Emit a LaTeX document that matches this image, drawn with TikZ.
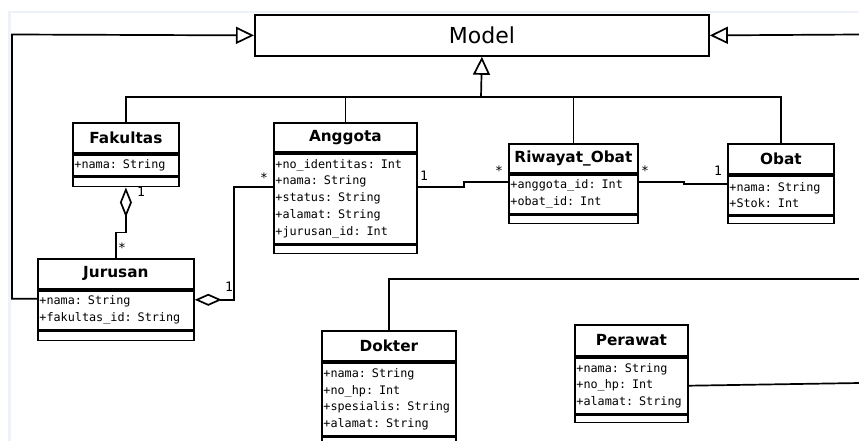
\documentclass[tikz,border=0pt]{standalone}
\usepackage{fontspec}
\setmainfont{DejaVu Sans}
\setmonofont{DejaVu Sans Mono}
\usetikzlibrary{arrows.meta,positioning,backgrounds}
\definecolor{framegrey}{HTML}{EEF1F8}

\begin{document}
\begin{tikzpicture}[x=1pt, y=-1pt,
  background rectangle/.style={fill=white}, show background rectangle, tight background,
  classname/.style={draw, line width=1.8pt, inner sep=0pt, minimum height=30pt, font=\fontsize{15.3}{17}\selectfont\bfseries},
  attrs/.style={draw, line width=1.8pt, inner xsep=1.5pt, inner ysep=2pt, align=left, font=\fontsize{11.8}{16.8}\selectfont\ttfamily},
  ops/.style={draw, line width=1.8pt, inner sep=0pt},
  link/.style={line width=1.7pt},
  gen/.style={link, -{Triangle[open, length=18pt, width=17pt]}},
  agg/.style={link, {Diamond[open, length=#1, width=12pt]}-},
  agg/.default=30pt,
  mult/.style={inner sep=0pt, font=\fontsize{13}{13}\selectfont\ttfamily}]
  \useasboundingbox (0,0) rectangle (859,441);
  \clip (0,0) rectangle (859,441);
  % Frame of the canvas
  \draw[framegrey, line width=2.5pt] (9.5,441) -- (9.5,12) -- (859,12);

  % Superclass
  \node[draw, line width=1.8pt, inner sep=0pt, minimum width=454pt, minimum height=41pt,
        font=\fontsize{22}{24}\selectfont, anchor=north west] (model) at (254,14) {Model};

  % Fakultas
  \node[classname, minimum width=106pt, anchor=north west] (fakultas) at (72,122) {Fakultas};
  \node[attrs, text width=103pt, minimum height=21pt, below=0pt of fakultas] (fakultas-attr) {+nama: String};
  \node[ops, minimum width=106pt, minimum height=9pt, below=0pt of fakultas-attr] (fakultas-op) {};
  % Anggota
  \node[classname, minimum width=143pt, minimum height=29pt, anchor=north west] (anggota) at (273,122) {Anggota};
  \node[attrs, text width=140pt, minimum height=90pt, below=0pt of anggota] (anggota-attr)
    {+no\_identitas: Int\\+nama: String\\+status: String\\+alamat: String\\+jurusan\_id: Int};
  \node[ops, minimum width=143pt, minimum height=8pt, below=0pt of anggota-attr] (anggota-op) {};
  % Jurusan
  \node[classname, minimum width=156pt, anchor=north west] (jurusan) at (37,258) {Jurusan};
  \node[attrs, text width=153pt, minimum height=39pt, below=0pt of jurusan] (jurusan-attr)
    {+nama: String\\+fakultas\_id: String};
  \node[ops, minimum width=156pt, minimum height=9pt, below=0pt of jurusan-attr] (jurusan-op) {};
  % Riwayat_Obat
  \node[classname, minimum width=129pt, minimum height=29pt, anchor=north west] (riwayat) at (508,143) {Riwayat\_Obat};
  \node[attrs, text width=126pt, minimum height=39pt, below=0pt of riwayat] (riwayat-attr)
    {+anggota\_id: Int\\+obat\_id: Int};
  \node[ops, minimum width=129pt, minimum height=8pt, below=0pt of riwayat-attr] (riwayat-op) {};
  % Obat
  \node[classname, minimum width=106pt, anchor=north west] (obat) at (727,143) {Obat};
  \node[attrs, text width=103pt, minimum height=39pt, below=0pt of obat] (obat-attr)
    {+nama: String\\+Stok: Int};
  \node[ops, minimum width=106pt, minimum height=7pt, below=0pt of obat-attr] (obat-op) {};
  % Dokter
  \node[classname, minimum width=134pt, anchor=north west] (dokter) at (321,330) {Dokter};
  \node[attrs, text width=131pt, minimum height=73pt, below=0pt of dokter] (dokter-attr)
    {+nama: String\\+no\_hp: Int\\+spesialis: String\\+alamat: String};
  \node[ops, minimum width=134pt, minimum height=12pt, below=0pt of dokter-attr] (dokter-op) {};
  % Perawat
  \node[classname, minimum width=113pt, minimum height=31pt, anchor=north west] (perawat) at (574,324) {Perawat};
  \node[attrs, text width=110pt, minimum height=56pt, below=0pt of perawat] (perawat-attr)
    {+nama: String\\+no\_hp: Int\\+alamat: String};
  \node[ops, minimum width=113pt, minimum height=7pt, below=0pt of perawat-attr] (perawat-op) {};

  % Inheritance
  \coordinate (hub) at (481,97);
  \coordinate (leftrail) at (12,34.5);
  \coordinate (rightrail) at (860,34.5);
  \coordinate (dokrail) at (860,279);
  \coordinate (perrail) at (860,383);
  \draw[link] (fakultas.north) |- (hub) -| (obat.north);
  \draw[link] (anggota.north) |- (hub);
  \draw[link] (riwayat.north) |- (hub);
  \draw[gen] (hub) -- (model.south);
  \draw[gen] ([yshift=-9pt]jurusan-attr.north west) -| (leftrail) -- (model.west);
  \draw[gen] (rightrail) -- (model.east);
  \draw[link] (dokter.north) |- (dokrail);
  \draw[link] (perawat-attr.east) -- (perrail);

  % Associations
  \draw[agg] (fakultas-op.south) -- ++(0,45) -| (jurusan.north);
  \draw[agg=27pt] ([yshift=-10pt]jurusan-attr.north east) -- ++(39,0) |- ([yshift=-34pt]anggota-attr.north west);
  \draw[link] ([yshift=-34pt]anggota-attr.north east) -- ++(46,0) |- ([yshift=-8pt]riwayat-attr.north west);
  \draw[link] ([yshift=-8pt]riwayat-attr.north east) -- ++(45,0) |- ([yshift=-9pt]obat-attr.north west);

  % Multiplicities
  \node[mult] (m-fak) at (141,192) {1};
  \node[mult] (m-jur) at (122,248) {*};
  \node[mult] (m-jur2) at (229,287) {1};
  \node[mult] (m-ang) at (264,178) {*};
  \node[mult] (m-ang2) at (424,176) {1};
  \node[mult] (m-riw) at (499,171) {*};
  \node[mult] (m-riw2) at (645,171) {*};
  \node[mult] (m-obat) at (718,171) {1};
\end{tikzpicture}
\end{document}
